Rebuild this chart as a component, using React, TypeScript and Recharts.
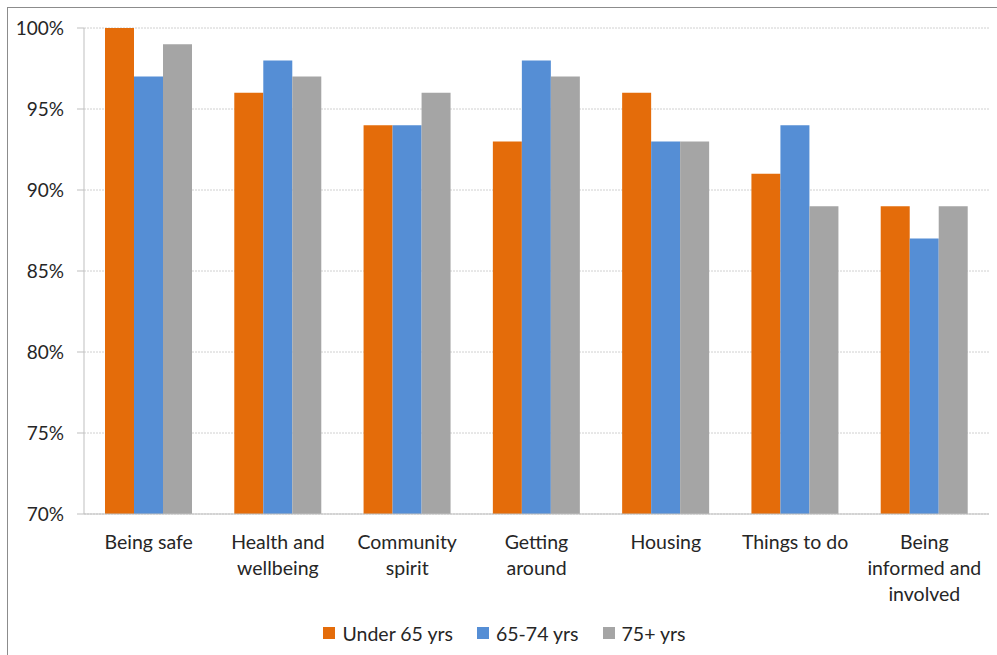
import React from 'react';
import { BarChart, Bar, XAxis, YAxis, CartesianGrid, Legend } from 'recharts';

const categories = [
  'Being safe',
  'Health and\nwellbeing',
  'Community\nspirit',
  'Getting\naround',
  'Housing',
  'Things to do',
  'Being\ninformed and\ninvolved',
];
const under65 = [100, 96, 94, 93, 96, 91, 89];
const age65to74 = [97, 98, 94, 98, 93, 94, 87];
const age75plus = [99, 97, 96, 97, 93, 89, 89];
const yTicks = [70, 75, 80, 85, 90, 95, 100];
const edgeTicks = [0, 1, 2, 3, 4, 5, 6, 7];

const series = [
  { key: 'under65', name: 'Under 65 yrs', color: '#E46C0A' },
  { key: 'age65to74', name: '65-74 yrs', color: '#558ED5' },
  { key: 'age75plus', name: '75+ yrs', color: '#A5A5A5' },
];

const data = categories.map((c, i) => ({
  category: c,
  under65: under65[i],
  age65to74: age65to74[i],
  age75plus: age75plus[i],
}));

const FONT = 'Lato, "Open Sans", sans-serif';
const TEXT = '#262626';
const AXIS = '#bfbfbf';

// category labels, one tspan per line
const CategoryTick = (props: any) => {
  const { x, y, payload } = props;
  const lines = String(payload.value).split('\n');
  return (
    <text x={x} y={y} textAnchor="middle" fill={TEXT} fontSize={19.5} fontFamily={FONT}>
      {lines.map((l, i) => (
        <tspan key={i} x={x} dy={i === 0 ? 27 : 26}>
          {l}
        </tspan>
      ))}
    </text>
  );
};

const LegendContent = () => (
  <div style={{ display: 'flex', justifyContent: 'center', alignItems: 'center', fontFamily: FONT, fontSize: 19.5, color: TEXT, height: 36, paddingBottom: 4, paddingLeft: 44 }}>
    {series.map((s) => (
      <div key={s.key} style={{ display: 'flex', alignItems: 'center', marginRight: 24 }}>
        <span style={{ width: 12, height: 12, background: s.color, display: 'inline-block', marginRight: 7 }} />
        <span>{s.name}</span>
      </div>
    ))}
  </div>
);

export default function App() {
  return (
    <div style={{ position: 'absolute', left: 0, top: 0, width: 997, height: 655, background: '#fff', overflow: 'hidden' }}>
      <div style={{ position: 'absolute', left: 7, top: 7, width: 1200, height: 800, borderLeft: '1px solid #8c8c8c', borderTop: '1px solid #8c8c8c' }} />
      <BarChart
        width={997}
        height={655}
        data={data}
        margin={{ top: 28, right: 8, left: 0, bottom: 0 }}
        barCategoryGap={21}
        barGap={0}
      >
        <CartesianGrid vertical={false} stroke="#d0d0d0" strokeDasharray="2 1" />
        <XAxis
          dataKey="category"
          interval={0}
          tickLine={false}
          axisLine={{ stroke: AXIS }}
          tick={<CategoryTick />}
          height={101}
        />
        <XAxis
          xAxisId="edges"
          type="number"
          domain={[0, 7]}
          ticks={edgeTicks}
          axisLine={false}
          tickLine={{ stroke: AXIS }}
          tickSize={6}
          tick={false}
          height={0}
          orientation="bottom"
        />
        <YAxis
          width={84}
          domain={[70, 100]}
          ticks={yTicks}
          allowDataOverflow
          tickFormatter={(v: number) => `${v}%`}
          tick={{ fill: TEXT, fontSize: 19, fontFamily: FONT }}
          tickLine={{ stroke: AXIS }}
          tickSize={7}
          tickMargin={13}
          axisLine={{ stroke: AXIS }}
        />
        <Legend verticalAlign="bottom" height={40} content={<LegendContent />} />
        {series.map((s) => (
          <Bar key={s.key} dataKey={s.key} name={s.name} fill={s.color} isAnimationActive={false} />
        ))}
      </BarChart>
    </div>
  );
}
